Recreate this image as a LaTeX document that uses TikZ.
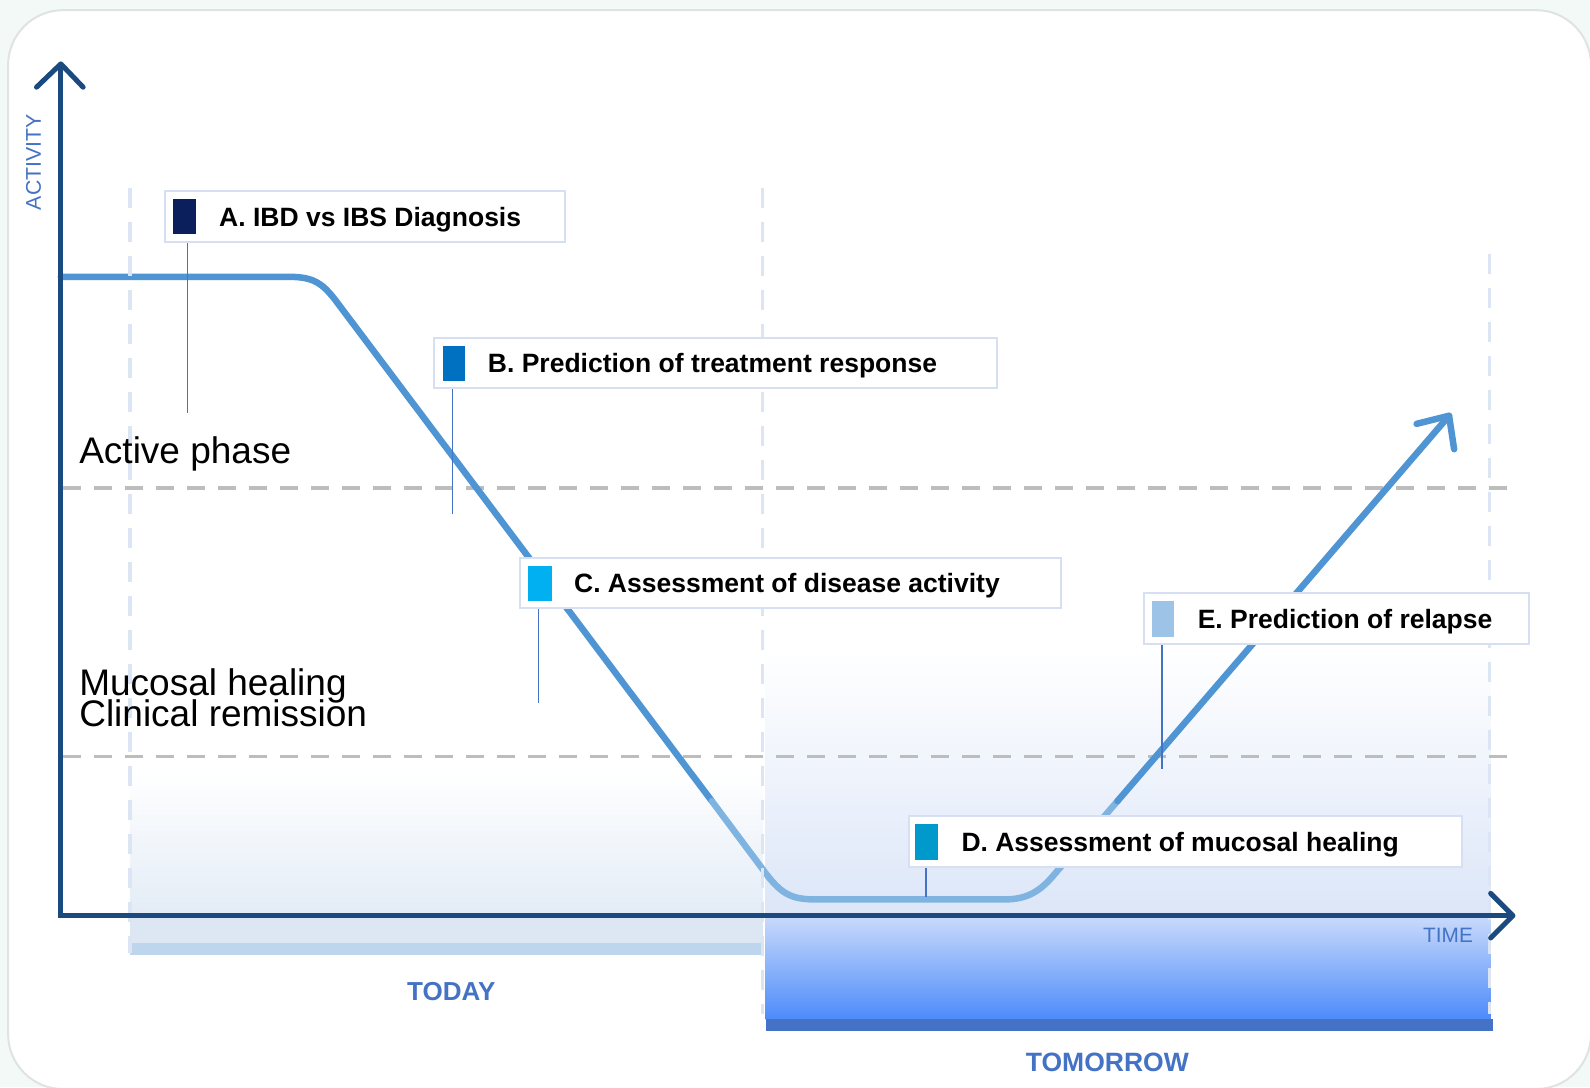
\documentclass[tikz,border=0pt]{standalone}
\usepackage{fontspec}
\setmainfont{Liberation Sans}
\usetikzlibrary{fit}
\definecolor{axisblue}{HTML}{1B4A80}
\definecolor{curveblue}{HTML}{4F95D3}
\definecolor{curvelight}{HTML}{7FB3E0}
\definecolor{leadblue}{HTML}{4472C4}
\definecolor{boxedge}{HTML}{D6E0F2}
\definecolor{mA}{HTML}{0B1F5C}
\definecolor{mB}{HTML}{0070C0}
\definecolor{mC}{HTML}{00B0F0}
\definecolor{mD}{HTML}{0099CC}
\definecolor{mE}{HTML}{9DC3E6}
\definecolor{dashgray}{HTML}{BDBDBD}
\definecolor{vdash}{HTML}{DCE5F4}
\definecolor{bgcol}{HTML}{F3F9F7}
\definecolor{cardedge}{HTML}{E0E3E3}
\definecolor{todayA}{HTML}{E3ECF6}
\definecolor{todayB}{HTML}{DCE7F3}
\definecolor{todaybar}{HTML}{BDD6EE}
\definecolor{tomA}{HTML}{DCE6F8}
\definecolor{tomB}{HTML}{C7D9FB}
\definecolor{tomC}{HTML}{4D8BFA}
\definecolor{tombar}{HTML}{4472C4}
\definecolor{txtblue}{HTML}{4472C4}
\begin{document}
\begin{tikzpicture}[x=1.01403pt,y=-1.01403pt,
  lbox/.style={draw=boxedge, fill=white, line width=2pt, inner sep=0pt},
  swatch/.style={inner sep=0pt, draw=none},
  leader/.style={draw=leadblue, line width=1.5pt},
  lbl/.style={anchor=base west, inner sep=0pt, font=\fontsize{26.5}{30}\selectfont\bfseries},
  phase/.style={anchor=base west, inner sep=0pt, font=\fontsize{37}{37}\selectfont},
  axisline/.style={draw=axisblue, line width=5pt},
  curve/.style={line width=6.5pt, line cap=round, line join=round},
  hdash/.style={draw=dashgray, line width=3.5pt, dash pattern=on 18pt off 13pt},
  vdashl/.style={draw=vdash, line width=3.5pt, dash pattern=on 20pt off 14pt},
  bluelabel/.style={text=txtblue, inner sep=0pt}]
\useasboundingbox (0,0) rectangle (1568,1072);
\fill[bgcol] (0,0) rectangle (1568,1072);
\draw[cardedge, line width=2pt, fill=white, rounded corners=55pt] (8,10) rectangle (1569,1074);

% regions
\shade[top color=white, bottom color=todayA] (128,760) rectangle (752,903);
\fill[todayB] (128,905) rectangle (752,930);
\fill[todaybar] (128,930) rectangle (752,942);
\shade[top color=white, bottom color=tomA] (755,640) rectangle (1470,903);
\shade[top color=tomB, bottom color=tomC] (755,905) rectangle (1470,1005);
\fill[tombar] (755,1005) rectangle (1472,1017);

% horizontal dashed thresholds
\draw[hdash] (62,481) -- (1495,481);
\draw[hdash] (62,746) -- (1495,746);

% activity curve
\coordinate (c0) at (60,273);
\coordinate (c1) at (702,790);
\coordinate (c2) at (1102,790);
\coordinate (tip) at (1429,410);
\draw[curve, curveblue] (c0) -- (285,273) .. controls (310,273) and (318,280) .. (330,295) -- (c1);
\draw[curve, curvelight] (c1) -- (752,857) .. controls (770,882) and (780,887) .. (805,887) -- (990,887) .. controls (1012,887) and (1025,880) .. (1040,862) -- (c2);
\draw[curve, curveblue] (c2) -- (tip);
\draw[curve, curveblue] (1397,418) -- (tip) -- (1434,443);

% vertical dashed period lines
\draw[vdashl] (128,185) -- (128,940);
\draw[vdashl] (752,185) -- (752,1000);
\draw[vdashl] (1469,250) -- (1469,1000);

% axes
\coordinate (O) at (60,903);
\coordinate (Ytop) at (60,63);
\coordinate (Xend) at (1492,903);
\draw[axisline, line join=miter] (Ytop) -- (O) -- (Xend);
\draw[axisline, line cap=round, line join=round] (36,86) -- (Ytop) -- (82,86);
\draw[axisline, line cap=round, line join=round] (1470,881) -- (Xend) -- (1470,925);

% label boxes
\node[lbox, fit={(163,188) (557,239)}] (A) {};
\node[lbox, fit={(428,333) (983,383)}] (B) {};
\node[lbox, fit={(513,550) (1046,600)}] (C) {};
\node[lbox, fit={(896,805) (1442,855)}] (D) {};
\node[lbox, fit={(1128,585) (1508,635)}] (E) {};

\node[swatch, fill=mA, fit={(171,196) (193,231)}] (sA) {};
\node[swatch, fill=mB, fit={(437,341) (459,376)}] (sB) {};
\node[swatch, fill=mC, fit={(521,558) (544,593)}] (sC) {};
\node[swatch, fill=mD, fit={(902,813) (925,848)}] (sD) {};
\node[swatch, fill=mE, fit={(1136,593) (1158,628)}] (sE) {};

\node[lbl] (tA) at (216,223) {A. IBD vs IBS Diagnosis};
\node[lbl] (tB) at (481,367.5) {B. Prediction of treatment response};
\node[lbl] (tC) at (566,584.5) {C. Assessment of disease activity};
\node[lbl] (tD) at (948,839.5) {D. Assessment of mucosal healing};
\node[lbl] (tE) at (1181,619.5) {E. Prediction of relapse};

% leader lines
\coordinate (Aend) at (185,407);
\coordinate (Bend) at (446,507);
\coordinate (Cend) at (531,693);
\coordinate (Dend) at (913,885);
\coordinate (Eend) at (1146,758);
\draw[leader] (A.south -| Aend) -- (Aend);
\draw[leader] (B.south -| Bend) -- (Bend);
\draw[leader] (C.south -| Cend) -- (Cend);
\draw[leader] (D.south -| Dend) -- (Dend);
\draw[leader] (E.south -| Eend) -- (Eend);

% phase texts
\node[phase] (act) at (78,457) {Active phase};
\node[phase] (muc) at (78,686) {Mucosal healing};
\node[phase] (clin) at (78,716) {Clinical remission};

% axis and period labels
\node[bluelabel, rotate=90, font=\fontsize{21.3}{22}\selectfont] (yl) at (33,160) {ACTIVITY};
\node[bluelabel, font=\fontsize{20.8}{22}\selectfont] (xl) at (1428,922) {TIME};
\node[bluelabel, font=\fontsize{26}{28}\selectfont\bfseries] (today) at (445,978) {TODAY};
\node[bluelabel, font=\fontsize{26.5}{28}\selectfont\bfseries] (tomorrow) at (1092,1048) {TOMORROW};
\end{tikzpicture}
\end{document}
